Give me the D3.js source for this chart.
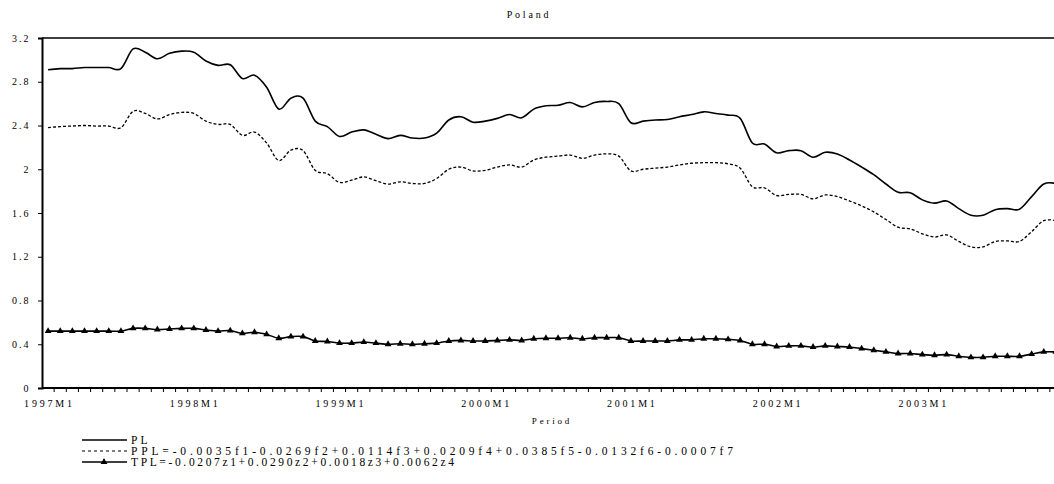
<!DOCTYPE html>
<html>
<head>
<meta charset="utf-8">
<script src="https://cdn.jsdelivr.net/npm/d3@7"></script>
<style>
  body { margin: 0; background: #fff; }
  svg { display: block; }
  text { font-family: "Liberation Serif", "Times New Roman", serif; fill: #000; }
</style>
</head>
<body>
<div id="chart"></div>
<script>
// monthly categories 1997M1 .. 2003M12
var years = [1997, 1998, 1999, 2000, 2001, 2002, 2003];
var months = [];
years.forEach(function(y) {
  for (var m = 1; m <= 12; m++) months.push(y + "M" + m);
});

var plValues = [
  2.91, 2.92, 2.92, 2.93, 2.93, 2.93, 2.92, 3.10, 3.07, 3.01, 3.06, 3.08,
  3.07, 2.99, 2.95, 2.955, 2.83, 2.86, 2.75, 2.55, 2.65, 2.65, 2.44, 2.39,
  2.30, 2.34, 2.36, 2.32, 2.28, 2.31, 2.285, 2.285, 2.33, 2.45, 2.48, 2.43,
  2.44, 2.465, 2.50, 2.47, 2.55, 2.58, 2.585, 2.61, 2.57, 2.61, 2.62, 2.60,
  2.425, 2.44, 2.45, 2.455, 2.48, 2.50, 2.525, 2.51, 2.495, 2.465, 2.24, 2.23,
  2.15, 2.17, 2.17, 2.11, 2.155, 2.14, 2.085, 2.02, 1.95, 1.865, 1.79, 1.785,
  1.72, 1.69, 1.71, 1.64, 1.58, 1.58, 1.63, 1.64, 1.635, 1.75, 1.865, 1.87
];

var pplValues = [
  2.38, 2.39, 2.395, 2.40, 2.395, 2.395, 2.38, 2.53, 2.51, 2.46, 2.50, 2.52,
  2.51, 2.44, 2.41, 2.41, 2.31, 2.34, 2.24, 2.08, 2.175, 2.17, 1.99, 1.96,
  1.88, 1.90, 1.93, 1.895, 1.865, 1.885, 1.87, 1.87, 1.915, 2.00, 2.02, 1.985,
  1.99, 2.02, 2.04, 2.02, 2.085, 2.11, 2.12, 2.13, 2.10, 2.13, 2.14, 2.12,
  1.985, 2.00, 2.01, 2.02, 2.04, 2.055, 2.06, 2.06, 2.05, 2.01, 1.84, 1.83,
  1.76, 1.77, 1.77, 1.73, 1.765, 1.75, 1.71, 1.665, 1.61, 1.54, 1.47, 1.455,
  1.41, 1.38, 1.40, 1.34, 1.29, 1.29, 1.34, 1.345, 1.34, 1.43, 1.53, 1.53
];

var tplValues = [
  0.52, 0.52, 0.52, 0.52, 0.52, 0.52, 0.52, 0.545, 0.545, 0.535, 0.54, 0.545,
  0.545, 0.53, 0.52, 0.525, 0.50, 0.51, 0.49, 0.455, 0.47, 0.47, 0.43, 0.425,
  0.41, 0.41, 0.42, 0.41, 0.40, 0.405, 0.40, 0.405, 0.41, 0.43, 0.435, 0.43,
  0.43, 0.435, 0.44, 0.435, 0.45, 0.455, 0.455, 0.46, 0.45, 0.46, 0.46, 0.46,
  0.43, 0.43, 0.43, 0.43, 0.44, 0.44, 0.45, 0.45, 0.445, 0.435, 0.40, 0.40,
  0.38, 0.385, 0.385, 0.375, 0.385, 0.38, 0.375, 0.36, 0.345, 0.33, 0.315, 0.315,
  0.305, 0.30, 0.305, 0.29, 0.28, 0.28, 0.29, 0.29, 0.29, 0.31, 0.33, 0.33
];

var yTicks = [0, 0.4, 0.8, 1.2, 1.6, 2, 2.4, 2.8, 3.2];
var xLabels = ["1997M1", "1998M1", "1999M1", "2000M1", "2001M1", "2002M1", "2003M1"];
var legendLabels = [
  "PL",
  "PPL=-0.0035f1-0.0269f2+0.0114f3+0.0209f4+0.0385f5-0.0132f6-0.0007f7",
  "TPL=-0.0207z1+0.0290z2+0.0018z3+0.0062z4"
];

var width = 1054, height = 484;
var plotLeft = 42, plotRight = 1062, plotTop = 38, plotBottom = 388;

var svg = d3.select("#chart").append("svg")
  .attr("width", width)
  .attr("height", height);

var x = d3.scaleBand().domain(months).range([plotLeft, plotRight]).padding(0);
var y = d3.scaleLinear().domain([0, 3.2]).range([plotBottom, plotTop]);
var cx = function(d, i) { return x(months[i]) + x.bandwidth() / 2; };

// title
svg.append("text")
  .attr("x", 529).attr("y", 18)
  .attr("text-anchor", "middle")
  .style("font-size", "10px")
  .style("letter-spacing", "2.8px")
  .text("Poland");

// top frame line
svg.append("line")
  .attr("x1", plotLeft).attr("x2", plotRight)
  .attr("y1", plotTop).attr("y2", plotTop)
  .attr("stroke", "#000").attr("stroke-width", 1.5);

// y axis
var yAxis = d3.axisLeft(y).tickValues(yTicks).tickSize(4).tickFormat(d3.format("~g"));
var gy = svg.append("g").attr("transform", "translate(" + plotLeft + ",0)").call(yAxis);
gy.select(".domain").attr("stroke-width", 2);
gy.selectAll("text")
  .attr("x", -11.5)
  .style("font-size", "10px")
  .style("letter-spacing", "2px")
  .style("font-family", "Liberation Serif, serif");

// x axis: ticks on category boundaries, labels each January
var gx = svg.append("g").attr("transform", "translate(0," + plotBottom + ")");
gx.append("line")
  .attr("x1", plotLeft).attr("x2", plotRight)
  .attr("stroke", "#000").attr("stroke-width", 2);
gx.selectAll(".tk").data(months).enter().append("line")
  .attr("x1", function(d) { return x(d) + x.bandwidth(); })
  .attr("x2", function(d) { return x(d) + x.bandwidth(); })
  .attr("y1", 0).attr("y2", 4)
  .attr("stroke", "#000");
gx.selectAll(".lb").data(xLabels).enter().append("text")
  .attr("x", function(d) { return x(d) + x.bandwidth() / 2 + 1.4; })
  .attr("y", 19)
  .attr("text-anchor", "middle")
  .style("font-size", "10px")
  .style("letter-spacing", "2.8px")
  .text(function(d) { return d; });

svg.append("text")
  .attr("x", (plotLeft + plotRight) / 2).attr("y", 424)
  .attr("text-anchor", "middle")
  .style("font-size", "9px")
  .style("letter-spacing", "2.8px")
  .text("Period");

// series
var line = d3.line()
  .x(cx)
  .y(function(d) { return y(d); })
  .curve(d3.curveCardinal.tension(0));

svg.append("path").datum(plValues)
  .attr("d", line).attr("fill", "none")
  .attr("stroke", "#000").attr("stroke-width", 1.6);

svg.append("path").datum(pplValues)
  .attr("d", line).attr("fill", "none")
  .attr("stroke", "#000").attr("stroke-width", 1.3)
  .attr("stroke-dasharray", "3,2");

svg.append("path").datum(tplValues)
  .attr("d", line).attr("fill", "none")
  .attr("stroke", "#000").attr("stroke-width", 1.6);

var tri = d3.symbol().type(d3.symbolTriangle).size(20);
svg.selectAll(".tri").data(tplValues).enter().append("path")
  .attr("d", tri)
  .attr("transform", function(d, i) { return "translate(" + cx(d, i) + "," + y(d) + ")"; })
  .attr("fill", "#000");

// legend
var legY = [440, 451, 462];
var legLen = [null, 605, 326];
var lg = svg.append("g");
legendLabels.forEach(function(t, i) {
  var l = lg.append("line")
    .attr("x1", 82).attr("x2", 127)
    .attr("y1", legY[i]).attr("y2", legY[i])
    .attr("stroke", "#000").attr("stroke-width", i == 1 ? 1.2 : 1.6);
  if (i == 1) l.attr("stroke-dasharray", "3,3");
  if (i == 2) {
    lg.append("path").attr("d", tri)
      .attr("transform", "translate(104," + legY[i] + ")");
  }
  var tx = lg.append("text")
    .attr("x", 131).attr("y", legY[i] + 4)
    .style("font-size", "11.5px")
    .style("letter-spacing", "3px")
    .text(t);
  if (legLen[i]) tx.attr("textLength", legLen[i]).attr("lengthAdjust", "spacing");
});
</script>
</body>
</html>
